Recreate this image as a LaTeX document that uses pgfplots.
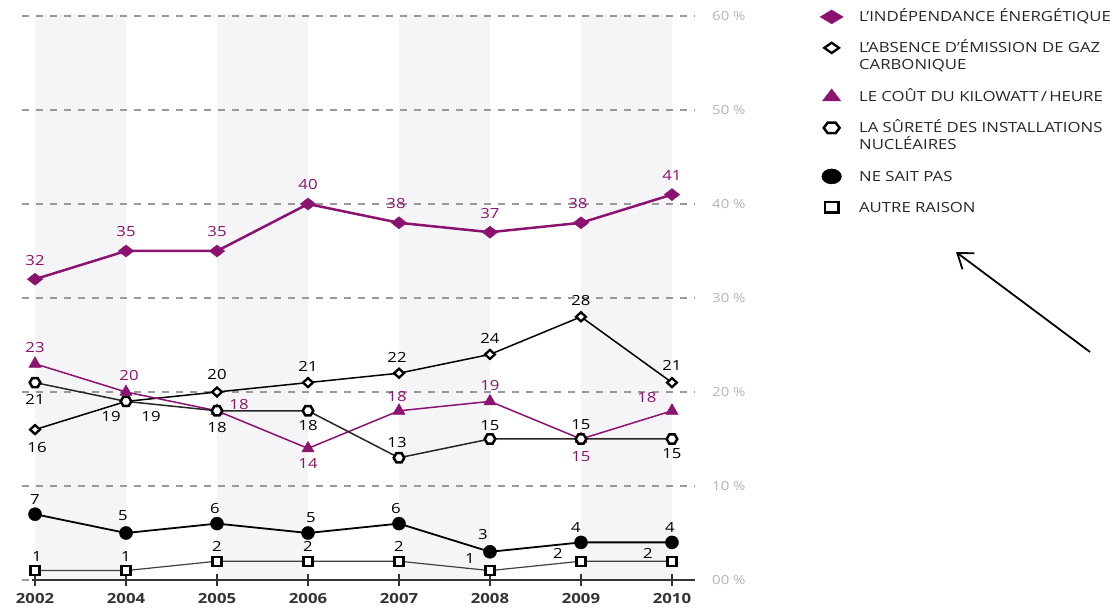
\documentclass[border=0pt]{standalone}
\usepackage{fontspec}
\setmainfont{Open Sans}[FakeStretch=1.2]
\usepackage{pgfplots}
\pgfplotsset{compat=1.18}
\usepackage{pgfplotstable}
\usetikzlibrary{arrows.meta}

\definecolor{prune}{HTML}{8C1270}
\definecolor{bande}{HTML}{F5F5F7}
\definecolor{grille}{HTML}{999999}
\definecolor{etiq}{HTML}{B4B4B4}

% open hexagon for "la surete"
\pgfdeclareplotmark{hexagon}{%
  \pgfpathmoveto{\pgfqpointpolar{0}{\pgfplotmarksize}}%
  \pgfpathlineto{\pgfqpointpolar{60}{\pgfplotmarksize}}%
  \pgfpathlineto{\pgfqpointpolar{120}{\pgfplotmarksize}}%
  \pgfpathlineto{\pgfqpointpolar{180}{\pgfplotmarksize}}%
  \pgfpathlineto{\pgfqpointpolar{240}{\pgfplotmarksize}}%
  \pgfpathlineto{\pgfqpointpolar{300}{\pgfplotmarksize}}%
  \pgfpathclose
  \pgfusepathqfillstroke}

% two-line legend entry, baseline on the first line
\newcommand{\deuxlignes}[2]{\parbox[t]{260bp}{\fontsize{14}{17}\selectfont#1\\#2\strut}}

% x = year index, y = %, dx/dy = label offset (bp)
\pgfplotstableread{
x y dx dy
0 32 0 19
1 35 0 19
2 35 0 19
3 40 0 19
4 38 -3 19
5 37 0 19
6 38 -3 19
7 41 0 19
}\indep
\pgfplotstableread{
x y dx dy
0 16 2 -18
1 19 -15 -15
2 20 0 17
3 21 0 16
4 22 -2 16
5 24 0 16
6 28 0 16
7 21 0 17
}\absence
\pgfplotstableread{
x y dx dy
0 23 0 16
1 20 3 16
2 18 22 6
3 14 0 -15
4 18 -2 14
5 19 0 16
6 15 0 -18
7 18 -25 13
}\cout
\pgfplotstableread{
x y dx dy
0 21 0 -17
1 19 25 -15
2 18 0 -17
3 18 0 -15
4 13 -2 15
5 15 0 13
6 15 0 14
7 15 0 -15
}\surete
\pgfplotstableread{
x y dx dy
0 7 0 15
1 5 -3 17
2 6 -2 15
3 5 3 15
4 6 -3 15
5 3 -7 17
6 4 -5 15
7 4 -2 15
}\nsp
\pgfplotstableread{
x y dx dy
0 1 2 14
1 1 0 14
2 2 0 15
3 2 0 15
4 2 0 15
5 1 -20 12
6 2 -23 8
7 2 -24 8
}\autre

\pgfplotsset{
  etiquettes/.style={
    nodes near coords,
    visualization depends on={\thisrow{dx}\as\dx},
    visualization depends on={\thisrow{dy}\as\dy},
    every node near coord/.append style={anchor=center, inner sep=0pt,
      xshift=\dx*1bp, yshift=\dy*1bp,
      font=\fontsize{14}{17}\selectfont, text=#1},
  },
}

\begin{document}
\begin{tikzpicture}
\begin{axis}[
  at={(22bp,28bp)}, anchor=south west,
  scale only axis, width=673bp, height=564bp,
  set layers, clip=false,
  xmin=-0.143, xmax=7.253, ymin=0, ymax=60,
  axis line style={draw=none},
  xtick={0,...,7},
  xticklabels={2002,2004,2005,2006,2007,2008,2009,2010},
  xtick pos=bottom,
  tick align=center,
  major tick length=12bp,
  x tick style={black!80, line width=1.2bp},
  xticklabel style={anchor=center, yshift=-13bp, text=black!80,
    font=\fontsize{14}{17}\selectfont\bfseries},
  ytick={0,10,...,60},
  yticklabels={00 \%,10 \%,20 \%,30 \%,40 \%,50 \%,60 \%},
  yticklabel pos=right,
  y tick style={draw=none},
  yticklabel style={anchor=west, inner sep=0pt, xshift=11bp, text=etiq,
    font=\fontsize{12.5}{14}\selectfont},
  ymajorgrids,
  major grid style={grille, dash pattern=on 7bp off 7bp, line width=1.1bp},
  /pgf/number format/assume math mode=true,
  legend style={at={(1.1857,1.011)}, anchor=north west,
    draw=none, fill=none, inner sep=0pt,
    row sep=14bp, column sep=16bp,
    cells={anchor=base west},
    nodes={inner sep=0pt, text height=11.9bp, text depth={}},
    font=\fontsize{14}{17}\selectfont, text=black!85},
  legend image code/.code={%
    \draw[#1, only marks, every mark/.append style={xscale=1.5, yscale=1.15}]
      plot coordinates {(11.5bp,5bp)};},
]
\begin{pgfonlayer}{axis background}
  \fill[bande] (axis cs:0,0) rectangle (axis cs:1,60.2);
  \fill[bande] (axis cs:2,0) rectangle (axis cs:3,60.2);
  \fill[bande] (axis cs:4,0) rectangle (axis cs:5,60.2);
  \fill[bande] (axis cs:6,0) rectangle (axis cs:7,60.2);
\end{pgfonlayer}
\draw[black!80, line width=1.2bp] (axis cs:-0.03,0) -- (axis cs:7.253,0);

\addplot[prune, line width=2.5bp, mark=diamond*, mark size=6bp,
  mark options={xscale=1.7, line width=0.5bp}, etiquettes=prune]
  table[x=x, y=y] {\indep};
\addlegendentry{L'INDÉPENDANCE ÉNERGÉTIQUE\strut}

\addplot[black, line width=1.5bp, mark=diamond*, mark size=4.5bp,
  mark options={xscale=1.45, fill=white, draw=black, line width=2.3bp},
  etiquettes=black]
  table[x=x, y=y] {\absence};
\addlegendentry{\deuxlignes{L'ABSENCE D'ÉMISSION DE GAZ}{CARBONIQUE}}

\addplot[prune, line width=1.5bp, mark=triangle*, mark size=7bp,
  mark options={line width=0.5bp}, etiquettes=prune]
  table[x=x, y=y] {\cout};
\addlegendentry{LE COÛT DU KILOWATT\,/\,HEURE\strut}

\addplot[black!85, line width=1.5bp, mark=hexagon, mark size=5.3bp,
  mark options={fill=white, draw=black, line width=2.5bp}, etiquettes=black]
  table[x=x, y=y] {\surete};
\addlegendentry{\deuxlignes{LA SÛRETÉ DES INSTALLATIONS}{NUCLÉAIRES}}

\addplot[black, line width=1.8bp, mark=*, mark size=6.5bp,
  mark options={line width=0.5bp}, etiquettes=black]
  table[x=x, y=y] {\nsp};
\addlegendentry{NE SAIT PAS\strut}

\addplot[black!75, line width=1.2bp, mark=square*, mark size=4.5bp,
  mark options={fill=white, draw=black, line width=2.3bp}, etiquettes=black]
  table[x=x, y=y] {\autre};
\addlegendentry{AUTRE RAISON\strut}
\end{axis}
\draw[line width=1.8bp, -{Straight Barb[length=14bp,width=20bp]}]
  (1090bp,256bp) -- (956bp,356bp);
\pgfresetboundingbox
\useasboundingbox (0,0) rectangle (1120bp,608bp);
\end{tikzpicture}
\end{document}
